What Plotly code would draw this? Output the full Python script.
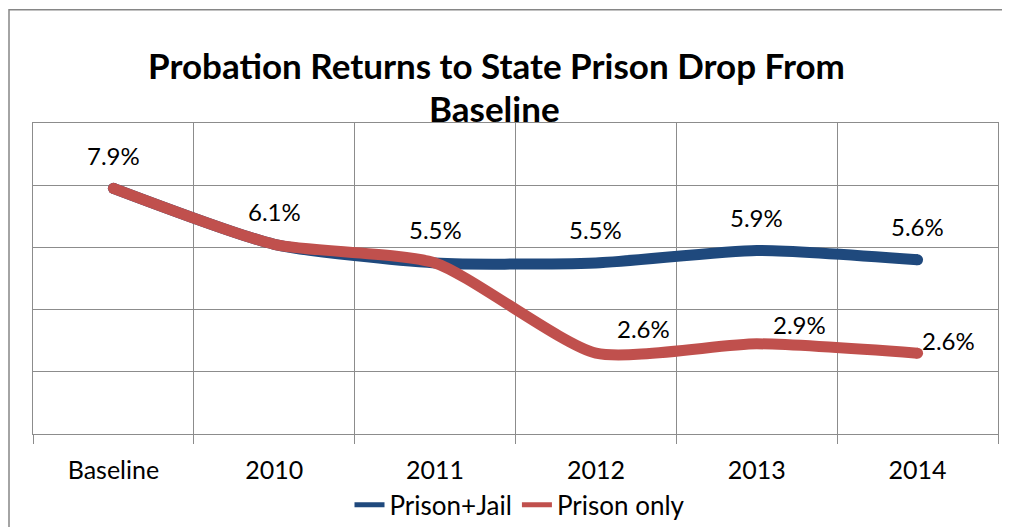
import plotly.graph_objects as go

categories = ["Baseline", "2010", "2011", "2012", "2013", "2014"]
prison_jail = [7.9, 6.1, 5.5, 5.5, 5.9, 5.6]
prison_only = [7.9, 6.1, 5.5, 2.6, 2.9, 2.6]
prison_only_labeled = [False, False, False, True, True, True]
title_line1 = "Probation Returns to State Prison Drop From"
title_line2 = "Baseline"

BLUE = "#1F497D"
RED = "#C0504D"
GRID = "#8C8C8C"
FONT = "Lato"
LW = 11

# The page body adds an 8px offset; figure is sized/margined to compensate.
OFF = 8
FIG_W, FIG_H = 1010 - OFF, 527 - OFF
PLOT_L, PLOT_R, PLOT_T, PLOT_B = 33, 998, 122.5, 434  # page pixel coords
PW, PH = PLOT_R - PLOT_L, PLOT_B - PLOT_T


def px_to_paper_x(px):
    return (px - PLOT_L) / PW


def px_to_paper_y(py):
    return (PLOT_B - py) / PH


fig = go.Figure()
for name, vals, col in [("Prison+Jail", prison_jail, BLUE), ("Prison only", prison_only, RED)]:
    fig.add_trace(go.Scatter(
        x=categories, y=vals, name=name, mode="lines",
        line=dict(color=col, width=LW, shape="spline", smoothing=0.6),
    ))
    # round end caps
    fig.add_trace(go.Scatter(
        x=[categories[0], categories[-1]], y=[vals[0], vals[-1]], mode="markers",
        marker=dict(color=col, size=LW, line=dict(width=0)),
        showlegend=False, hoverinfo="skip",
    ))

annotations = []
for i, v in enumerate(prison_jail):
    annotations.append(dict(x=i, y=v, xref="x", yref="y", text=f"{v:.1f}%",
                            showarrow=False, yshift=33,
                            font=dict(family=FONT, size=24, color="black")))
red_shifts = [(0, 0), (0, 0), (0, 0), (48, 25), (43, 19), (31, 13)]
for i, (v, show) in enumerate(zip(prison_only, prison_only_labeled)):
    if show:
        dx, dy = red_shifts[i]
        annotations.append(dict(x=i, y=v, xref="x", yref="y", text=f"{v:.1f}%",
                                showarrow=False, xshift=dx, yshift=dy,
                                font=dict(family=FONT, size=24, color="black")))
annotations.append(dict(x=px_to_paper_x(496), y=px_to_paper_y(64), xref="paper", yref="paper",
                        text=f"<b>{title_line1}</b>", showarrow=False,
                        xanchor="center", yanchor="middle",
                        font=dict(family=FONT, size=35, color="black")))
annotations.append(dict(x=px_to_paper_x(494), y=px_to_paper_y(107), xref="paper", yref="paper",
                        text=f"<b>{title_line2}</b>", showarrow=False,
                        xanchor="center", yanchor="middle",
                        font=dict(family=FONT, size=35, color="black")))

fig.update_layout(
    width=FIG_W, height=FIG_H, autosize=False,
    margin=dict(l=PLOT_L - OFF, r=FIG_W + OFF - PLOT_R, t=PLOT_T - OFF,
                b=FIG_H + OFF - PLOT_B, pad=0, autoexpand=False),
    paper_bgcolor="white", plot_bgcolor="white",
    font=dict(family=FONT, size=22, color="black"),
    showlegend=True,
    legend=dict(orientation="h", x=px_to_paper_x(520), xanchor="center",
                y=px_to_paper_y(505), yanchor="middle",
                font=dict(family=FONT, size=26, color="black"),
                bgcolor="rgba(0,0,0,0)", itemsizing="constant"),
    annotations=annotations,
    shapes=[dict(type="rect", xref="paper", yref="paper",
                 x0=px_to_paper_x(OFF + 1), x1=1.2, y0=-0.6, y1=px_to_paper_y(OFF + 1),
                 line=dict(color="#868686", width=1.5), fillcolor="rgba(0,0,0,0)",
                 layer="below")],
)
fig.update_xaxes(type="category", range=[-0.5, 5.5], tickson="boundaries",
                 showgrid=True, gridcolor=GRID, gridwidth=1.3,
                 showline=True, linecolor=GRID, linewidth=1.3, mirror=True,
                 ticks="outside", ticklen=9, tickcolor=GRID, tickwidth=1.3,
                 ticklabelstandoff=14,
                 tickfont=dict(family=FONT, size=25, color="black"))
fig.update_yaxes(range=[0, 10], dtick=2, showticklabels=False,
                 showgrid=True, gridcolor=GRID, gridwidth=1.3, zeroline=False,
                 showline=True, linecolor=GRID, linewidth=1.3, mirror=True, ticks="")

fig.write_html("out.html")
